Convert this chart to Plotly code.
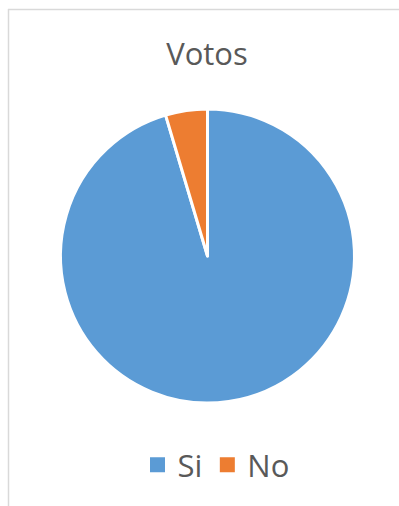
import plotly.graph_objects as go

labels = ["Si", "No"]
values = [95.4, 4.6]
colors = ["#5B9BD5", "#ED7D31"]

W, H = 399, 506
cx, cy, r = 207.5, 256, 147

fig = go.Figure(go.Pie(
    labels=labels, values=values, sort=False, direction="clockwise", rotation=0,
    marker=dict(colors=colors, line=dict(color="white", width=3)),
    textinfo="none", hoverinfo="label+percent", showlegend=False,
    domain=dict(x=[(cx - r) / W, (cx + r) / W], y=[1 - (cy + r) / H, 1 - (cy - r) / H]),
))

# legend entries (square swatches), one per category
for lab, col in zip(labels, colors):
    fig.add_trace(go.Scatter(x=[None], y=[None], mode="markers", name=lab,
                             marker=dict(symbol="square", size=15, color=col),
                             hoverinfo="skip", showlegend=True))

fig.update_layout(
    width=W, height=H, margin=dict(l=0, r=0, t=0, b=0),
    paper_bgcolor="white", plot_bgcolor="white",
    font=dict(family="Open Sans", color="#595959"),
    xaxis=dict(visible=False), yaxis=dict(visible=False),
    title=dict(text="Votos", x=207 / W, y=1 - 54 / H, xanchor="center", yanchor="middle",
               xref="paper", yref="container", font=dict(size=31, color="#595959")),
    showlegend=True,
    legend=dict(orientation="h", x=216 / W, xanchor="center", y=1 - 465 / H, yanchor="middle",
                font=dict(size=31, color="#595959"), itemclick=False, itemsizing="trace",
                itemwidth=30, tracegroupgap=0),
    shapes=[
        dict(type="line", xref="paper", yref="paper", x0=8.5 / W, x1=8.5 / W, y0=0, y1=1 - 9 / H,
             line=dict(color="#D9D9D9", width=1.5)),
        dict(type="line", xref="paper", yref="paper", x0=8 / W, x1=1, y0=1 - 9.5 / H, y1=1 - 9.5 / H,
             line=dict(color="#D9D9D9", width=1.5)),
    ],
)

fig.write_html("out.html")
